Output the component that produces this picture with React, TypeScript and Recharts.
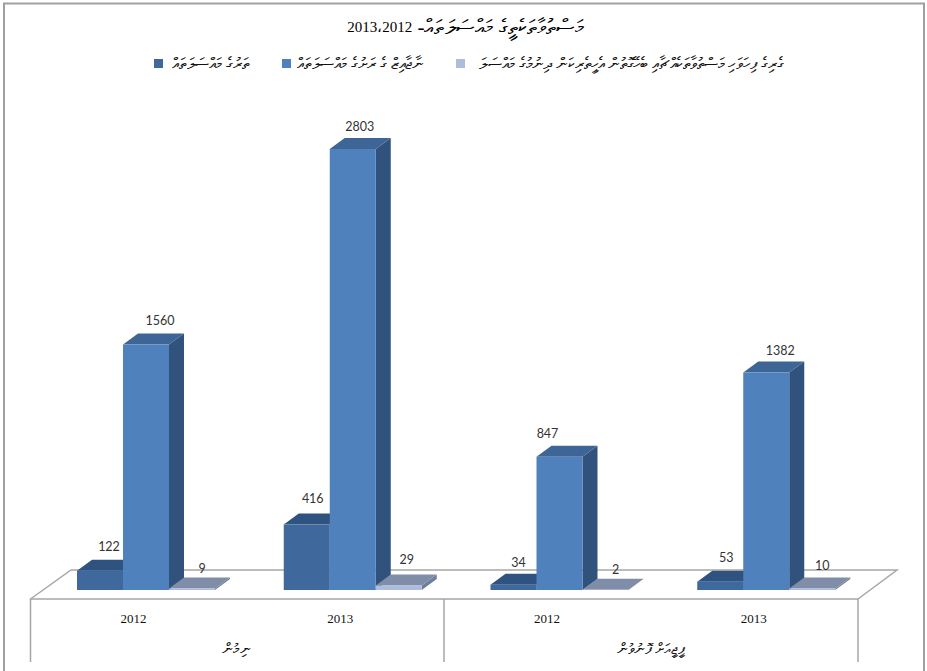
import { Bar, BarChart, LabelList, Legend, XAxis, YAxis } from "recharts";

const years = ["2012", "2013", "2012", "2013"];
const groups = ["ނިމުން", "ނިމުން", "ޕީޖީއަށް ފޮނުވުން", "ޕީޖީއަށް ފޮނުވުން"];
const firstValues = [122, 416, 34, 53];
const secondValues = [1560, 2803, 847, 1382];
const thirdValues = [9, 29, 2, 10];

const titleWords = "މަސްތުވާތަކެތީގެ މައްސަލަތައް- ";
const titleYears = "2013،2012";
const seriesNames = [
	"ތަރުގެ މައްސަލަތައް",
	"ނާޖާއިޒް ގެ ރަށުގެ މައްސަލަތައް",
	"ގެރިގެ ފިހަވަހި މަސްތުވާތަކެއްޗާއި ބެހޭގޮތުން އެހީތެރިކަން ދިނުމުގެ މައްސަލަ",
];

const chartData = years.map((year, i) => ({
	year,
	group: groups[i],
	first: firstValues[i],
	second: secondValues[i],
	third: thirdValues[i],
}));

const SERIF = "'Liberation Serif', 'Times New Roman', serif";
const DEPTH_X = 15;
const DEPTH_Y = -11;
const LINE = "#a6a6a6";
// axis text sits under the front edge of the floor, not under the bars
const TICK_SHIFT = -13;

// front, top and side shades of each series
const faces = [
	{ front: "#3f689c", top: "#2e5380", side: "#31527b" },
	{ front: "#4f81bd", top: "#3d6595", side: "#30527c" },
	{ front: "#aebddc", top: "#7f8da9", side: "#6f7e99" },
];

// the data labels are not placed evenly in the original
const labelNudges = [
	[[9, -24], [6, -26], [5, -22], [6, -24]],
	[[14, -24], [7, -22], [-12, -23], [14, -22]],
	[[10, -20], [8, -26], [10, -20], [10, -23]],
];

const legendSpots = [
	{ swatch: 154, textRight: 249 },
	{ swatch: 282, textRight: 423 },
	{ swatch: 456, textRight: 783 },
];

function Box3D(props: any) {
	const { x, y, width, height, shade } = props;
	const r = x + width;
	const b = y + height;
	const c = faces[shade];
	return (
		<g>
			<path
				d={`M${r},${y}L${r + DEPTH_X},${y + DEPTH_Y}L${r + DEPTH_X},${b + DEPTH_Y}L${r},${b}Z`}
				fill={c.side}
			/>
			<path
				d={`M${x},${y}L${x + DEPTH_X},${y + DEPTH_Y}L${r + DEPTH_X},${y + DEPTH_Y}L${r},${y}Z`}
				fill={c.top}
			/>
			<rect x={x} y={y} width={width} height={height} fill={c.front} />
		</g>
	);
}

function barLabel(series: number) {
	return (props: any) => {
		const { x, y, width, value, index } = props;
		const [dx, dy] = labelNudges[series][index];
		return (
			<text
				x={x + width / 2 + dx}
				y={y + dy}
				textAnchor="middle"
				dominantBaseline="central"
				fontFamily="Lato, 'Open Sans', sans-serif"
				fontSize={12.5}
				fill="#333"
			>
				{value}
			</text>
		);
	};
}

function Scene() {
	return (
		<g fill="none" stroke={LINE}>
			<path d="M4,671V3.5H924V671" strokeWidth={2} stroke="#a0a0a0" />
			<path d="M30.5,662V599H858V662M444,599V662" strokeWidth={1.5} />
			<path d="M30.5,599L71,570H897L858,599" strokeWidth={1.5} />
			<text
				x={465}
				y={27}
				direction="rtl"
				textAnchor="middle"
				dominantBaseline="central"
				fontFamily={SERIF}
				fontSize={15}
				fill="#000"
				stroke="none"
			>
				<tspan fontSize={21}>{titleWords}</tspan>
				<tspan>{titleYears}</tspan>
			</text>
		</g>
	);
}

function YearTick({ x, y, payload }: any) {
	return (
		<text x={x + TICK_SHIFT} y={y} dy={25} textAnchor="middle" fontFamily={SERIF} fontSize={13} fill="#111">
			{payload.value}
		</text>
	);
}

function GroupTick({ x, y, payload }: any) {
	return (
		<text x={x + TICK_SHIFT} y={y} dy={16} textAnchor="middle" direction="rtl" fontFamily={SERIF} fontSize={15} fill="#111">
			{payload.value}
		</text>
	);
}

function LegendRow() {
	return (
		<div style={{ position: "relative", width: 927, height: 30 }}>
			{seriesNames.map((name, i) => (
				<div key={name}>
					<div
						style={{
							position: "absolute",
							left: legendSpots[i].swatch,
							top: 0,
							width: 9,
							height: 9,
							background: faces[i].front,
						}}
					/>
					<div
						dir="rtl"
						style={{
							position: "absolute",
							right: 927 - legendSpots[i].textRight,
							top: -4,
							whiteSpace: "nowrap",
							fontFamily: SERIF,
							fontSize: 16,
							lineHeight: "18px",
							color: "#111",
						}}
					>
						{name}
					</div>
				</div>
			))}
		</div>
	);
}

export default function App() {
	return (
		<div style={{ position: "absolute", left: 0, top: 0, width: 927, height: 671 }}>
			<BarChart
				width={927}
				height={671}
				data={chartData}
				margin={{ top: 88, right: 57, bottom: 0, left: 43 }}
				barSize={46}
				barGap={0}
			>
				<Scene />
				<XAxis
					xAxisId={0}
					dataKey="year"
					height={40}
					axisLine={false}
					tickLine={false}
					interval={0}
					tick={<YearTick />}
				/>
				<XAxis
					xAxisId={1}
					dataKey="group"
					allowDuplicatedCategory={false}
					height={41}
					axisLine={false}
					tickLine={false}
					interval={0}
					tick={<GroupTick />}
				/>
				<YAxis hide domain={[0, 3000]} />
				<Legend
					verticalAlign="top"
					content={<LegendRow />}
					wrapperStyle={{ position: "absolute", left: 0, top: 59, width: 927, height: 30 }}
				/>
				<Bar xAxisId={0} dataKey="first" isAnimationActive={false} shape={<Box3D shade={0} />}>
					<LabelList dataKey="first" content={barLabel(0)} />
				</Bar>
				<Bar xAxisId={0} dataKey="second" isAnimationActive={false} shape={<Box3D shade={1} />}>
					<LabelList dataKey="second" content={barLabel(1)} />
				</Bar>
				<Bar xAxisId={0} dataKey="third" isAnimationActive={false} shape={<Box3D shade={2} />}>
					<LabelList dataKey="third" content={barLabel(2)} />
				</Bar>
			</BarChart>
		</div>
	);
}
